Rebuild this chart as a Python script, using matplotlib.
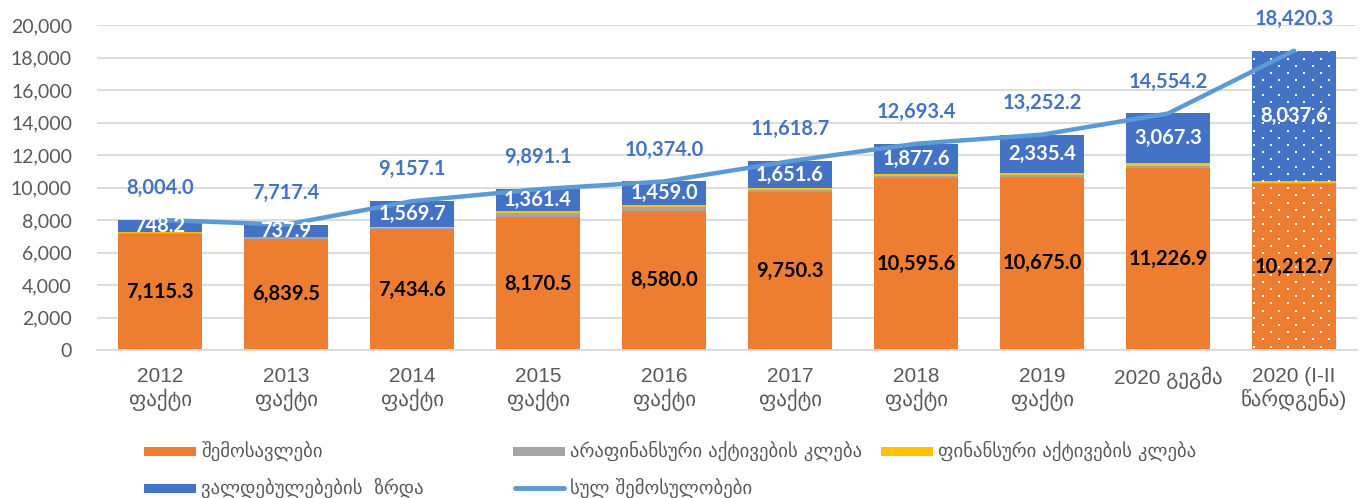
import matplotlib
matplotlib.use('Agg')
import matplotlib.pyplot as plt
from matplotlib.patches import Rectangle
from matplotlib.lines import Line2D
from matplotlib.ticker import FuncFormatter
import numpy as np

# ---------------- data ----------------
categories = ['2012\nფაქტი', '2013\nფაქტი', '2014\nფაქტი', '2015\nფაქტი', '2016\nფაქტი',
              '2017\nფაქტი', '2018\nფაქტი', '2019\nფაქტი', '2020 გეგმა', '2020 (I-II\nწარდგენა)']
revenues = [7115.3, 6839.5, 7434.6, 8170.5, 8580.0, 9750.3, 10595.6, 10675.0, 11226.9, 10212.7]
nonfin_assets = [90.0, 90.0, 100.0, 270.0, 250.0, 120.0, 110.0, 100.0, 110.0, 80.0]
fin_assets = [50.5, 50.0, 52.8, 89.2, 85.0, 96.8, 110.2, 141.8, 150.0, 90.0]
liabilities = [748.2, 737.9, 1569.7, 1361.4, 1459.0, 1651.6, 1877.6, 2335.4, 3067.3, 8037.6]
totals = [8004.0, 7717.4, 9157.1, 9891.1, 10374.0, 11618.7, 12693.4, 13252.2, 14554.2, 18420.3]
series_names = ['შემოსავლები', 'არაფინანსური აქტივების კლება', 'ფინანსური აქტივების კლება',
                'ვალდებულებების  ზრდა', 'სულ შემოსულობები']
y_ticks = [0, 2000, 4000, 6000, 8000, 10000, 12000, 14000, 16000, 18000, 20000]

# ---------------- style ----------------
C_ORANGE = '#ED7D31'
C_GRAY = '#A5A5A5'
C_YELLOW = '#FFC000'
C_BLUE = '#4472C4'
C_LINE = '#5B9BD5'
C_TEXT = '#595959'

plt.rcParams['font.family'] = ['Lato', 'DejaVu Sans']

W, H = 1367, 498
fig = plt.figure(figsize=(W / 100, H / 100), dpi=100)
ax = fig.add_axes([97 / W, 1 - 350 / H, (1357 - 97) / W, (350 - 25) / H])

x = np.arange(len(categories))
rev = np.array(revenues)
nfa = np.array(nonfin_assets)
fa = np.array(fin_assets)
lia = np.array(liabilities)
tot = np.array(totals)
bw = 0.667

ax.set_xlim(-0.5, len(x) - 0.5)
ax.set_ylim(0, 20000)

b_rev = ax.bar(x, rev, bw, color=C_ORANGE, linewidth=0, zorder=2)
b_nfa = ax.bar(x, nfa, bw, bottom=rev, color=C_GRAY, linewidth=0, zorder=2)
b_fa = ax.bar(x, fa, bw, bottom=rev + nfa, color=C_YELLOW, linewidth=0, zorder=2)
b_lia = ax.bar(x, lia, bw, bottom=rev + nfa + fa, color=C_BLUE, linewidth=0, zorder=2)

# dotted texture on the last (forecast) bar: staggered white dots, clipped to the bar
last_bottom = b_rev[-1]
last_top = b_lia[-1]
x0, y0 = last_bottom.get_x(), last_bottom.get_y()
x1 = x0 + last_bottom.get_width()
y1 = last_top.get_y() + last_top.get_height()
(px0, py0) = ax.transData.transform((x0, y0))
(px1, py1) = ax.transData.transform((x1, y1))
dx, dy = 16.6, 7.2
pts = []
row = 0
yy = py0 + 3.5
while yy < py1:
    xx = px0 + 2.5 + (8.3 if row % 2 else 0)
    while xx < px1:
        pts.append((xx, yy))
        xx += dx
    yy += dy
    row += 1
pts = ax.transData.inverted().transform(np.array(pts))
clip = Rectangle((x0, y0), x1 - x0, y1 - y0, transform=ax.transData, visible=False)
ax.add_patch(clip)
dots = ax.scatter(pts[:, 0], pts[:, 1], s=2.8, marker='s', color='white', linewidths=0, zorder=3)
dots.set_clip_path(clip)

ax.plot(x, tot, color=C_LINE, lw=3.2, zorder=4, solid_capstyle='round')

# labels
for i in range(len(x)):
    ax.text(x[i], rev[i] / 2, f'{rev[i]:,.1f}', ha='center', va='center',
            fontsize=14.5, fontweight='bold', color='black', zorder=5)
    ax.text(x[i], rev[i] + nfa[i] + fa[i] + lia[i] / 2, f'{lia[i]:,.1f}', ha='center',
            va='center', fontsize=14.5, fontweight='bold', color='white', zorder=5)
    ax.annotate(f'{tot[i]:,.1f}', (x[i], tot[i]), xytext=(0, 23), textcoords='offset points',
                ha='center', va='center', fontsize=14.5, fontweight='bold', color=C_BLUE, zorder=6)

ax.set_yticks(y_ticks)
ax.yaxis.set_major_formatter(FuncFormatter(lambda v, p: f'{v:,.0f}'))
ax.set_xticks(x)
ax.set_xticklabels(categories, family=['Liberation Sans', 'DejaVu Sans'], fontsize=15,
                   color=C_TEXT, linespacing=1.15)
for lab in ax.get_yticklabels():
    lab.set_fontsize(14)
    lab.set_color(C_TEXT)
ax.tick_params(axis='both', length=0)
ax.tick_params(axis='y', pad=18)
ax.tick_params(axis='x', pad=12)
ax.grid(axis='y', color='#D9D9D9', lw=1.3, zorder=0)
ax.set_axisbelow(True)
for s in ['top', 'right', 'left']:
    ax.spines[s].set_visible(False)
ax.spines['bottom'].set_color('#D9D9D9')
ax.spines['bottom'].set_linewidth(1.3)


# ---------------- legend (manual) ----------------
def fx(px):
    return px / W


def fy(py):
    return 1 - py / H


legend_items = [
    ('patch', C_ORANGE, 144, 451, series_names[0]),
    ('patch', C_GRAY, 513, 451, series_names[1]),
    ('patch', C_YELLOW, 881, 451, series_names[2]),
    ('patch', C_BLUE, 144, 488, series_names[3]),
    ('line', C_LINE, 513, 488, series_names[4]),
]
for kind, col, px, py, name in legend_items:
    if kind == 'patch':
        fig.add_artist(Rectangle((fx(px), fy(py + 4.5)), fx(52), 9 / H, transform=fig.transFigure,
                                 facecolor=col, edgecolor='none'))
    else:
        fig.add_artist(Line2D([fx(px + 2), fx(px + 51)], [fy(py), fy(py)], transform=fig.transFigure,
                              color=col, lw=3.5, solid_capstyle='round'))
    fig.text(fx(px + 57), fy(py), name, ha='left', va='center', fontsize=13.5,
             color=C_TEXT, family=['DejaVu Sans'])

fig.savefig('out.png', dpi=100)
